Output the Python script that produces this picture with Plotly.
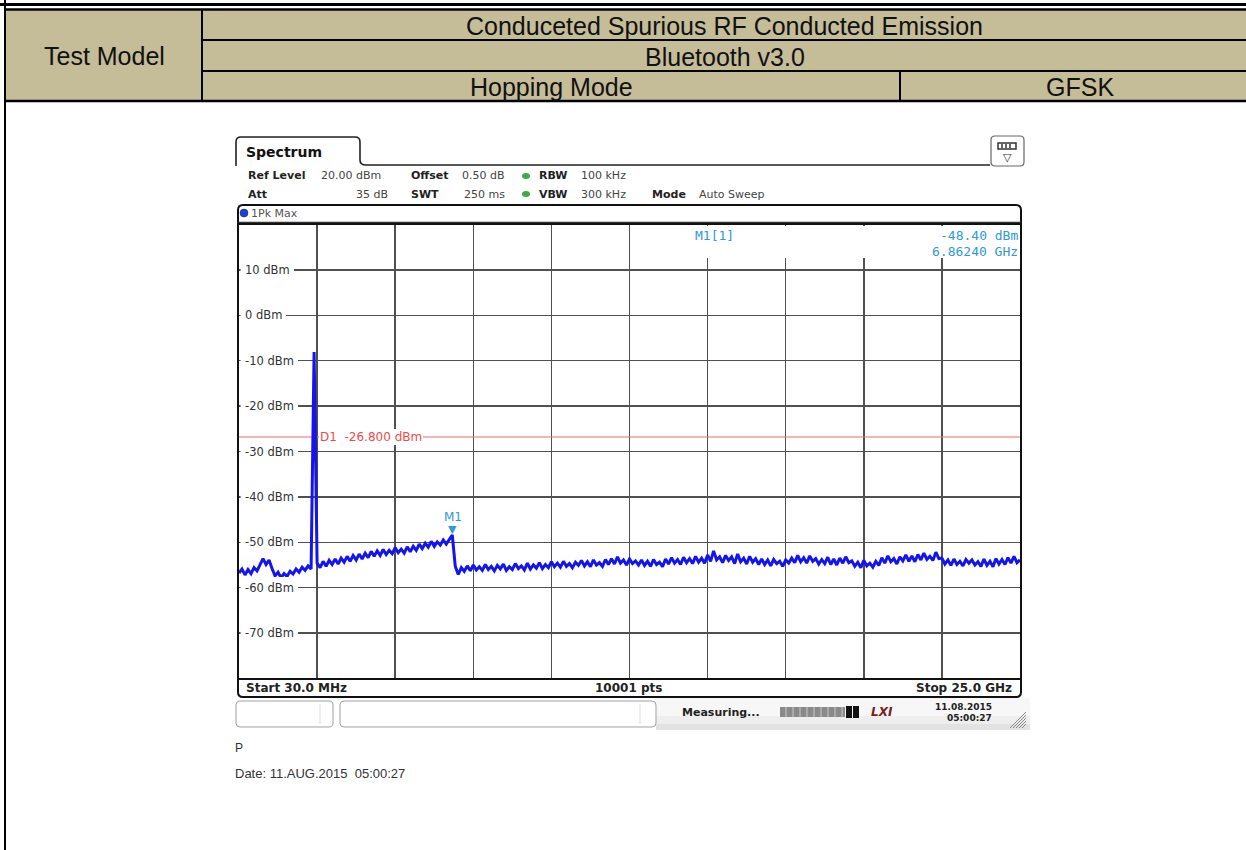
import numpy as np
import plotly.graph_objects as go

W, H = 1246, 850

# ---------------- data ----------------
start_ghz = 0.03
stop_ghz = 25.0
n_divisions = 10
ref_top_dbm = 20
ref_bottom_dbm = -80
y_ticks = [10, 0, -10, -20, -30, -40, -50, -60, -70]
y_tick_labels = ["10 dBm", "0 dBm", "-10 dBm", "-20 dBm", "-30 dBm",
                 "-40 dBm", "-50 dBm", "-60 dBm", "-70 dBm"]
display_line_dbm = -26.8
marker_freq_ghz = 6.8624
marker_level_dbm = -48.40

# trace (dBm), evenly spaced over the sweep
trace_seg_a = [-56.8, -55.9, -57.2, -56.0, -56.9, -55.6, -56.3, -54.8, -53.6, -54.9,
               -53.9, -55.8, -57.4, -56.6, -57.8, -56.9, -57.5, -56.4, -57.0, -55.9,
               -56.6, -55.5, -56.2, -55.2, -55.9]
trace_spike = [-8.1]
trace_seg_b = [-54.6, -55.6, -54.2, -55.3, -54.0, -54.9, -53.7, -54.8, -53.5, -54.4,
               -53.1, -54.2, -52.9, -53.9, -52.6, -53.7, -52.4, -53.4, -52.0, -53.1,
               -51.9, -52.9, -51.6, -52.7, -51.8, -52.5, -51.2, -52.3, -51.5, -52.4,
               -51.0, -52.1, -50.9, -51.8, -50.4, -51.4, -50.2, -51.1, -49.8, -50.9,
               -49.9, -50.6, -49.5, -50.4, -49.3, -48.4]
trace_seg_c = [-55.3, -57.1, -55.6, -56.4, -55.2, -56.3, -55.0, -56.1, -55.4, -56.2,
               -54.9, -56.0, -55.3, -56.3, -55.1, -55.9, -54.8, -56.2, -55.4, -56.0,
               -54.7, -55.8, -55.2, -56.1, -54.6, -55.9, -55.0, -55.7, -54.5, -55.8,
               -54.9, -55.6,
               -54.3, -55.4, -54.6, -55.5, -54.2, -55.3, -54.7, -55.6, -54.4, -55.1,
               -54.0, -55.2, -54.3, -55.4, -53.9, -55.0, -54.5, -55.3, -53.8, -54.9,
               -53.6, -54.8, -53.2, -54.6, -53.9, -55.0, -53.7, -54.7, -54.1, -55.0,
               -53.9, -55.1, -54.2, -55.3, -53.8, -54.9, -54.4, -55.4, -53.7, -54.8,
               -53.4, -54.6, -53.8, -54.9, -53.3, -54.5, -53.6, -54.7, -53.1, -54.4,
               -53.5, -54.6, -52.8, -54.2, -51.9, -53.9, -53.2, -54.5, -52.9, -54.0,
               -53.2, -54.7, -52.6, -54.3, -53.5, -54.8, -53.1, -54.4, -53.6, -54.9,
               -53.7, -54.9, -53.9, -55.2, -53.8, -54.7, -54.2, -55.3, -53.9, -54.6,
               -53.5, -54.5, -52.9, -54.3, -53.4, -54.6, -53.0, -54.2, -53.6, -54.8,
               -53.8, -54.7, -53.3, -54.9, -53.7, -55.0, -53.5, -54.6, -53.2, -54.5,
               -54.1, -55.3, -54.4, -55.6, -54.0, -55.2, -54.6, -55.5, -54.2, -55.1,
               -53.4, -54.6, -53.0, -54.3, -53.6, -54.8, -53.2, -54.1, -52.8, -54.2,
               -53.0, -54.3, -52.7, -53.9, -52.4, -53.8, -53.1, -54.0, -52.2, -53.6,
               -53.5, -54.8, -53.9, -55.1, -53.7, -54.9, -54.2, -55.2, -53.8, -54.6,
               -53.9, -55.0, -54.3, -55.3, -53.7, -55.1, -54.2, -55.4, -53.6, -54.8,
               -53.8, -54.9, -53.4, -54.6, -53.1, -54.5, -53.9]

levels = trace_seg_a + trace_spike + trace_seg_b + trace_seg_c
freqs = np.linspace(start_ghz, stop_ghz, len(levels))

# ---------------- helpers ----------------
def X(x):
    return x / W


def Y(y):
    return 1 - y / H


def P(x, y):
    return f"{X(x):.5f},{Y(y):.5f}"


shapes = []
annos = []


def rect(x0, y0, x1, y1, fill=None, line=None, lw=0, layer="below"):
    shapes.append(dict(type="rect", xref="paper", yref="paper",
                       x0=X(x0), x1=X(x1), y0=Y(y1), y1=Y(y0),
                       fillcolor=fill if fill else "rgba(0,0,0,0)",
                       line=dict(color=line if line else "rgba(0,0,0,0)", width=lw),
                       layer=layer))


def seg(x0, y0, x1, y1, color="black", lw=1, layer="below"):
    shapes.append(dict(type="line", xref="paper", yref="paper",
                       x0=X(x0), x1=X(x1), y0=Y(y0), y1=Y(y1),
                       line=dict(color=color, width=lw), layer=layer))


def path(d, color="black", lw=1, fill=None, layer="below"):
    shapes.append(dict(type="path", xref="paper", yref="paper", path=d,
                       line=dict(color=color, width=lw),
                       fillcolor=fill if fill else "rgba(0,0,0,0)", layer=layer))


def rrect(x0, y0, x1, y1, r, color="black", lw=1, fill=None, layer="below"):
    d = (f"M{P(x0 + r, y0)} L{P(x1 - r, y0)} Q{P(x1, y0)} {P(x1, y0 + r)} "
         f"L{P(x1, y1 - r)} Q{P(x1, y1)} {P(x1 - r, y1)} L{P(x0 + r, y1)} "
         f"Q{P(x0, y1)} {P(x0, y1 - r)} L{P(x0, y0 + r)} Q{P(x0, y0)} {P(x0 + r, y0)} Z")
    path(d, color, lw, fill, layer)


def txt(x, y, s, size=11, color="#222222", bold=False, family="DejaVu Sans",
        xanchor="left", yanchor="middle", bg=None, italic=False):
    t = s
    if bold:
        t = "<b>" + t + "</b>"
    if italic:
        t = "<i>" + t + "</i>"
    annos.append(dict(xref="paper", yref="paper", x=X(x), y=Y(y), text=t,
                      showarrow=False, xanchor=xanchor, yanchor=yanchor,
                      font=dict(family=family, size=size, color=color),
                      bgcolor=bg if bg else "rgba(0,0,0,0)", borderpad=0))


# ---------------- header table ----------------
TAN = "#C5BC98"
rect(0, 3, W, 6, fill="black")
seg(5, 0, 5, H, lw=2)
rect(6, 9, W, 101, fill=TAN)
seg(5, 9.5, W, 9.5, lw=2.5)
seg(202, 40, W, 40, lw=2)
seg(202, 71, W, 71, lw=2)
seg(5, 101, W, 101, lw=2.5)
seg(202, 9, 202, 101, lw=2)
seg(900, 71, 900, 101, lw=2)

TF = "Liberation Sans, Arial, sans-serif"
txt(104, 56, "Test Model", size=25, color="#111111", family=TF, xanchor="center")
txt(725, 26, "Conduceted Spurious RF Conducted Emission", size=25, color="#111111",
    family=TF, xanchor="center")
txt(725, 57, "Bluetooth v3.0", size=25, color="#111111", family=TF, xanchor="center")
txt(551, 87, "Hopping Mode", size=25, color="#111111", family=TF, xanchor="center")
txt(1080, 87, "GFSK", size=25, color="#111111", family=TF, xanchor="center")

# ---------------- spectrum window chrome ----------------
tab = (f"M{P(236, 166)} L{P(236, 142)} Q{P(236, 137)} {P(241, 137)} "
       f"L{P(355, 137)} Q{P(360, 137)} {P(360, 142)} L{P(360, 160)} "
       f"Q{P(360, 165)} {P(366, 165)} L{P(990, 165)}")
path(tab, color="#222222", lw=1.6)
txt(245, 152, "Spectrum", size=14, color="#111111", bold=True)

# top right icon
rrect(991, 136, 1024, 166, 4, color="#666666", lw=1.2, fill="white")
rect(998, 143, 1016, 149, fill="white", line="#333333", lw=1.5)
for xx in (1002, 1006, 1010):
    seg(xx, 144, xx, 148, color="#333333", lw=1.5)
txt(1007, 157, "▽", size=11, color="#333333", xanchor="center")

# parameter rows
HC = "#222222"
LC = "#444444"
txt(247, 176, "Ref Level", size=11, color=HC, bold=True)
txt(320, 176, "20.00 dBm", size=11, color=LC)
txt(410, 176, "Offset", size=11, color=HC, bold=True)
txt(461, 176, "0.50 dB", size=11, color=LC)
txt(538, 176, "RBW", size=11, color=HC, bold=True)
txt(580, 176, "100 kHz", size=11, color=LC)
txt(247, 194, "Att", size=11, color=HC, bold=True)
txt(389, 194, "35 dB", size=11, color=LC, xanchor="right")
txt(410, 194, "SWT", size=11, color=HC, bold=True)
txt(463, 194, "250 ms", size=11, color=LC)
txt(538, 194, "VBW", size=11, color=HC, bold=True)
txt(580, 194, "300 kHz", size=11, color=LC)
txt(651, 194, "Mode", size=11, color=HC, bold=True)
txt(698, 194, "Auto Sweep", size=11, color=LC)
for yy in (176, 194):
    shapes.append(dict(type="circle", xref="paper", yref="paper",
                       x0=X(522), x1=X(530), y0=Y(yy + 3), y1=Y(yy - 3),
                       fillcolor="#3DAA4A", line=dict(width=0), layer="above"))

# frame
rrect(238, 205, 1021, 697, 5, color="#111111", lw=2)
seg(238, 222.5, 1021, 222.5, color="#333333", lw=1.5)
shapes.append(dict(type="circle", xref="paper", yref="paper",
                   x0=X(240), x1=X(248), y0=Y(217), y1=Y(209),
                   fillcolor="#1D3FD6", line=dict(color="#0A1F80", width=0.5), layer="above"))
txt(250, 213, "1Pk Max", size=11, color="#555555")

# bottom info row
txt(245, 688, "Start 30.0 MHz", size=12, color="#222222", bold=True)
txt(628, 688, "10001 pts", size=12, color="#222222", bold=True, xanchor="center")
txt(1013, 688, "Stop 25.0 GHz", size=12, color="#222222", bold=True, xanchor="right")

# status bar
rect(656, 698, 1030, 716, fill="#F7F7F7")
rect(656, 716, 1030, 724, fill="#EEEEEE")
rect(656, 724, 1030, 730, fill="#E2E2E2")
rrect(236, 701, 333, 727, 4, color="#A0A0A0", lw=1, fill="white")
seg(320, 704, 320, 724, color="#DDDDDD", lw=1)
rrect(340, 701, 656, 727, 4, color="#A0A0A0", lw=1, fill="white")
seg(640, 704, 640, 724, color="#DDDDDD", lw=1)
txt(681, 712, "Measuring...", size=11, color="#222222", bold=True)
rect(780, 707, 845, 717, fill="#8A8A8A")
for xx in range(786, 845, 7):
    seg(xx, 707, xx, 717, color="#C8C8C8", lw=1)
rect(846, 706, 852, 718, fill="#111111")
rect(853, 706, 859, 718, fill="#111111")
txt(870, 712, "LXI", size=12, color="#7A2020", bold=True, italic=True)
txt(993, 707, "11.08.2015", size=9, color="#222222", bold=True, xanchor="right")
txt(993, 718, "05:00:27", size=9, color="#222222", bold=True, xanchor="right")
for k in range(5):
    seg(1010 + 3 * k, 728, 1026, 712 + 3 * k, color="#888888", lw=1)

# print footer
txt(234, 748, "P", size=12, color="#333333", family=TF)
txt(234, 773, "Date: 11.AUG.2015\u00a0\u00a005:00:27", size=13, color="#333333", family=TF)

# ---------------- plot ----------------
PLOT_L, PLOT_R = 239, 1020
PLOT_T, PLOT_B = 224.6, 678.4

fig = go.Figure()
fig.add_trace(go.Scatter(x=freqs, y=levels, mode="lines",
                         line=dict(color="#1414F0", width=3),
                         hoverinfo="skip", showlegend=False))

# display line D1
shapes.append(dict(type="line", xref="x", yref="y", x0=start_ghz, x1=stop_ghz,
                   y0=display_line_dbm, y1=display_line_dbm,
                   line=dict(color="#F06A6A", width=1.2), layer="between"))
annos.append(dict(xref="paper", yref="y", x=X(319), y=display_line_dbm,
                  text="D1\u00a0\u00a0-26.800 dBm",
                  showarrow=False, xanchor="left", yanchor="middle",
                  font=dict(family="DejaVu Sans", size=12, color="#F04A4A"),
                  bgcolor="white", borderpad=1, borderwidth=0))

# y tick labels inside the graticule (white gap hides the grid line under them)
for v, lab in zip(y_ticks, y_tick_labels):
    shapes.append(dict(type="rect", xref="paper", yref="y",
                       x0=X(240.6), x1=X(252), y0=v - 1.4, y1=v + 1.4,
                       fillcolor="white", line=dict(width=0), layer="above"))
    annos.append(dict(xref="paper", yref="y", x=X(240.6), y=v, text=lab,
                      showarrow=False, xanchor="left", yanchor="middle",
                      font=dict(family="DejaVu Sans", size=11.5, color="#333333"),
                      bgcolor="white", borderpad=4, borderwidth=0))

# marker readout box
rect(634, 226, 1019, 258, fill="white", layer="above")
MC = "#2E9AD8"
txt(694, 236, "M1[1]", size=13, color=MC, family="DejaVu Sans Mono")
txt(1019, 236, "-48.40 dBm", size=13, color=MC, family="DejaVu Sans Mono", xanchor="right")
txt(1019, 252, "6.86240 GHz", size=13, color=MC, family="DejaVu Sans Mono", xanchor="right")

# marker M1
annos.append(dict(xref="x", yref="y", x=marker_freq_ghz, y=marker_level_dbm, text="▼",
                  showarrow=False, xanchor="center", yanchor="bottom", yshift=-3,
                  font=dict(family="DejaVu Sans", size=11, color=MC)))
annos.append(dict(xref="x", yref="y", x=marker_freq_ghz, y=marker_level_dbm, text="M1",
                  showarrow=False, xanchor="center", yanchor="bottom", yshift=9,
                  font=dict(family="DejaVu Sans", size=12, color=MC)))

grid_vals = list(np.linspace(start_ghz, stop_ghz, n_divisions + 1))

fig.update_layout(
    width=W, height=H, autosize=False,
    margin=dict(l=0, r=0, t=0, b=0, pad=0),
    paper_bgcolor="white", plot_bgcolor="rgba(0,0,0,0)",
    shapes=shapes, annotations=annos,
    xaxis=dict(domain=[X(PLOT_L), X(PLOT_R)], range=[start_ghz, stop_ghz],
               tickvals=grid_vals, showticklabels=False, ticks="",
               showgrid=True, gridcolor="#505050", gridwidth=1.5,
               zeroline=False, showline=True, mirror=True,
               linecolor="#111111", linewidth=2, fixedrange=True),
    yaxis=dict(domain=[Y(PLOT_B), Y(PLOT_T)], range=[ref_bottom_dbm, ref_top_dbm],
               dtick=10, showticklabels=False, ticks="",
               showgrid=True, gridcolor="#505050", gridwidth=1.5,
               zeroline=False, showline=True, mirror=True,
               linecolor="#111111", linewidth=2, fixedrange=True),
    showlegend=False,
)

fig.write_html("out.html", config={"displayModeBar": False, "staticPlot": True},
               post_script="document.body.style.margin='0';document.body.style.overflow='hidden';")
